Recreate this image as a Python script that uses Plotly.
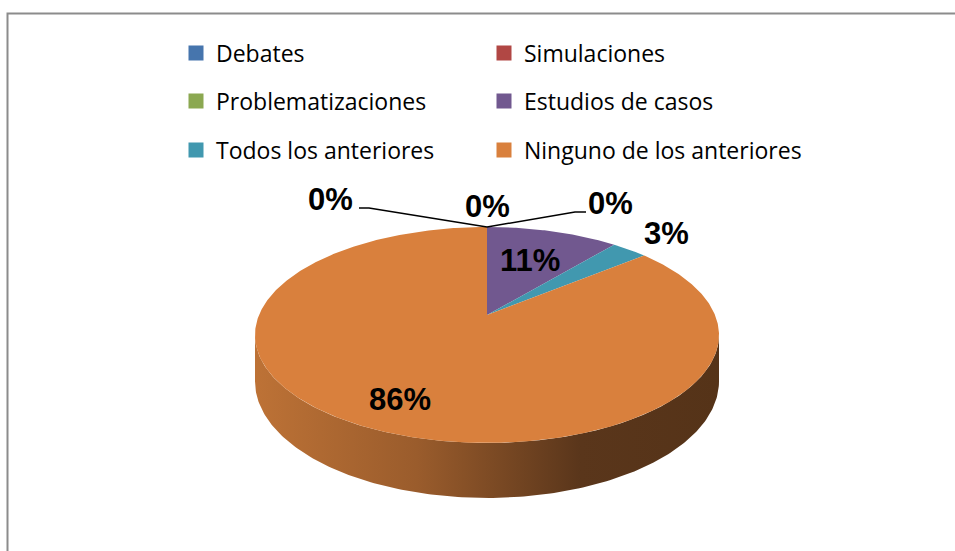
import numpy as np
import plotly.graph_objects as go

# ---- data ----
categories = ["Debates", "Simulaciones", "Problematizaciones",
              "Estudios de casos", "Todos los anteriores", "Ninguno de los anteriores"]
values = [0, 0, 0, 11, 3, 86]
pct_labels = ["0%", "0%", "0%", "11%", "3%", "86%"]
colors = ["#4675AD", "#B14744", "#8BA851", "#71588F", "#4198AF", "#D9803D"]

# ---- geometry of the tilted pie (layout, not data) ----
W, H = 955, 551
CX, CY = 487, 315
SX, SY = 228, 104.3
K = 0.185
DEPTH = 44.8


def proj(theta_deg, r=1.0, drop=0.0):
    t = np.radians(theta_deg)
    X = r * np.sin(t)
    Z = r * np.cos(t)
    w = 1 + K * Z
    return CX + SX * X / w, CY - SY * Z / w + drop / w


fig = go.Figure()

# side wall (front, visible part)
tR = 90 + np.degrees(np.arcsin(K))
tL = 270 - np.degrees(np.arcsin(K))
th = np.linspace(tR, tL, 200)
xt, yt = proj(th)
xb, yb = proj(th[::-1], drop=DEPTH)
fig.add_trace(go.Scatter(
    x=np.concatenate([xt, xb, xt[:1]]), y=np.concatenate([yt, yb, yt[:1]]),
    mode="lines", fill="toself", line=dict(width=0),
    fillgradient=dict(type="horizontal",
                      colorscale=[[0, "#BD7236"], [0.35, "#9A5C2C"],
                                  [0.7, "#5A361B"], [1, "#553318"]]),
    showlegend=False, hoverinfo="skip"))

# top slices
total = sum(values)
start = 0.0
mids = []
for cat, v, c in zip(categories, values, colors):
    a0 = start / total * 360
    a1 = (start + v) / total * 360
    mids.append((a0 + a1) / 2)
    n = max(2, int(abs(a1 - a0) * 2))
    ang = np.linspace(a0, a1, n)
    xs, ys = proj(ang)
    fig.add_trace(go.Scatter(
        x=np.concatenate([[CX], xs, [CX]]), y=np.concatenate([[CY], ys, [CY]]),
        mode="lines", fill="toself", fillcolor=c, line=dict(width=0),
        name=cat, showlegend=False, hoverinfo="skip"))
    start += v

# legends (one per entry, laid out in 2 columns x 3 rows)
col_x = [176, 484]
row_y = [53, 101, 150]
layout_legends = {}
for i, (cat, c) in enumerate(zip(categories, colors)):
    key = "legend" if i == 0 else f"legend{i + 1}"
    fig.add_trace(go.Scatter(
        x=[None], y=[None], mode="markers",
        marker=dict(symbol="square", size=15, color=c),
        name=cat, legend=key, showlegend=True))
    layout_legends[key] = dict(
        x=col_x[i % 2] / W, y=1 - row_y[i // 2] / H,
        xanchor="left", yanchor="middle",
        bgcolor="rgba(0,0,0,0)",
        font=dict(family="Open Sans", size=23, color="#000000"))

# labels
annotations = []
lab_font = dict(family="Liberation Sans", size=31, color="#000000")
# non-zero slices: placed from mid-angles
radii = {3: 0.62, 4: 1.3, 5: 0.78}
for i, r in radii.items():
    x, y = proj(mids[i], r=r)
    annotations.append(dict(x=x, y=y, text=f"<b>{pct_labels[i]}</b>",
                            showarrow=False, font=lab_font,
                            xanchor="center", yanchor="middle"))
# zero slices with leader lines
zero_pos = [(330, 199), (487, 206), (610, 203)]
for i, (x, y) in enumerate(zero_pos):
    annotations.append(dict(x=x, y=y, text=f"<b>{pct_labels[i]}</b>",
                            showarrow=False, font=lab_font,
                            xanchor="center", yanchor="middle"))

rx, ry = proj(0)
shapes = [
    dict(type="path", path=f"M 359 208 L 369 208 L {rx} {ry}",
         line=dict(color="#000000", width=1.5), xref="x", yref="y"),
    dict(type="path", path=f"M {rx} {ry} L 575 212 L 586 212",
         line=dict(color="#000000", width=1.5), xref="x", yref="y"),
    # chart frame
    dict(type="path", path="M 7.5 560 L 7.5 13.5 L 960 13.5",
         line=dict(color="#8C8C8C", width=2), xref="x", yref="y"),
]

fig.update_layout(
    width=W, height=H,
    margin=dict(l=0, r=0, t=0, b=0),
    paper_bgcolor="white", plot_bgcolor="white",
    xaxis=dict(range=[0, W], visible=False, fixedrange=True),
    yaxis=dict(range=[H, 0], visible=False, fixedrange=True),
    annotations=annotations, shapes=shapes,
    **layout_legends,
)

fig.write_html("out.html", config={"displayModeBar": False},
               post_script="document.body.style.margin='0';document.body.style.overflow='hidden';")
